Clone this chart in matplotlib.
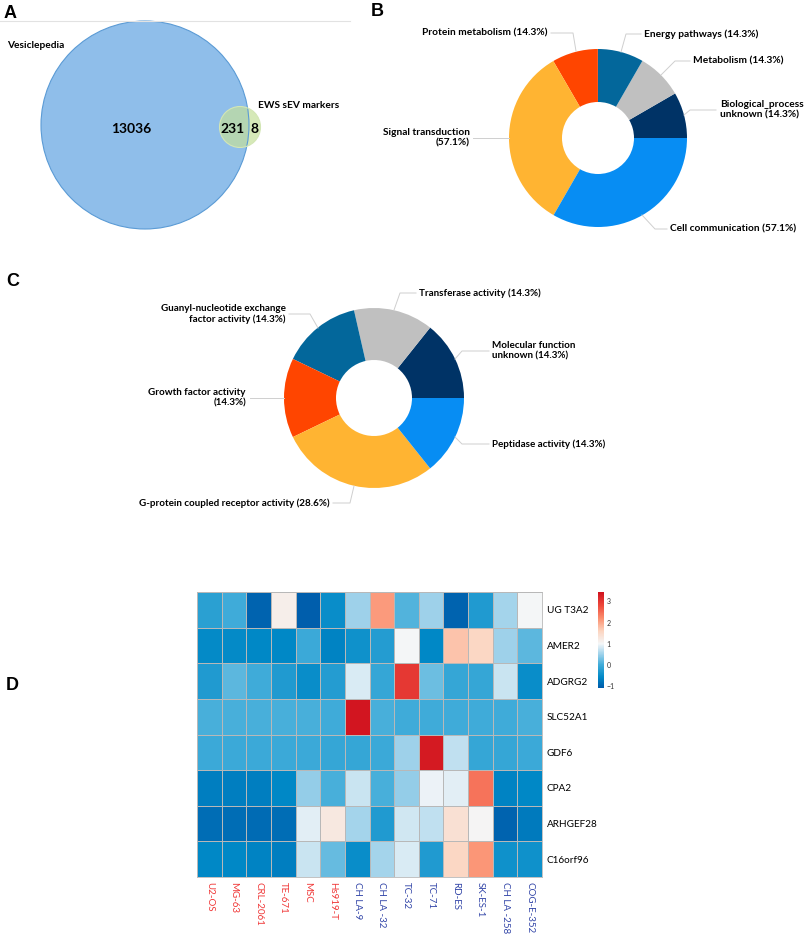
import numpy as np
import matplotlib
matplotlib.use("Agg")
import matplotlib.pyplot as plt
from matplotlib.patches import Circle
from matplotlib.colors import LinearSegmentedColormap, Normalize

W, H = 809, 936

# ---- data ----
# A: venn
venn_sets = ["Vesiclepedia", "EWS sEV markers"]
venn_counts = [13036, 231, 8]   # only left, shared, only right

# B: biological process (counter-clockwise from 3 o'clock)
bp_names = ["Biological_process\nunknown", "Metabolism", "Energy pathways",
            "Protein metabolism", "Signal transduction\n", "Cell communication"]
bp_pct = [14.3, 14.3, 14.3, 14.3, 57.1, 57.1]
bp_colors = ["#003366", "#C0C0C0", "#03679B", "#FF4500", "#FFB432", "#078DF3"]

# C: molecular function
mf_names = ["Molecular function\nunknown", "Transferase activity",
            "Guanyl-nucleotide exchange\nfactor activity", "Growth factor activity\n",
            "G-protein coupled receptor activity", "Peptidase activity"]
mf_pct = [14.3, 14.3, 14.3, 14.3, 28.6, 14.3]
mf_colors = ["#003366", "#C0C0C0", "#03679B", "#FF4500", "#FFB432", "#078DF3"]

# D: heatmap
genes = ["UG T3A2", "AMER2", "ADGRG2", "SLC52A1", "GDF6", "CPA2", "ARHGEF28", "C16orf96"]
cells = ["U2-OS", "MG-63", "CRL-2061", "TE-671", "MSC", "Hs919-T", "CH LA-9", "CH LA -32",
         "TC-32", "TC-71", "RD-ES", "SK-ES-1", "CH LA -258", "COG-E-352"]
cell_group = ["other"] * 6 + ["ews"] * 8
expr = np.array([
    [-0.2, 0.0, -1.0, 1.15, -1.05, -0.5, 0.5, 2.1, 0.1, 0.5, -1.0, -0.3, 0.55, 1.0],
    [-0.55, -0.55, -0.6, -0.6, -0.05, -0.65, -0.45, -0.25, 1.0, -0.6, 1.75, 1.55, 0.5, 0.15],
    [-0.3, 0.15, 0.0, -0.3, -0.5, -0.25, 0.85, -0.1, 3.0, 0.25, -0.1, -0.1, 0.75, -0.5],
    [0.05, 0.05, 0.05, 0.05, 0.05, 0.0, 3.4, 0.05, 0.0, 0.0, 0.0, 0.0, 0.0, 0.05],
    [-0.05, -0.05, -0.05, -0.05, -0.05, -0.1, -0.1, -0.05, 0.5, 3.35, 0.7, -0.1, -0.1, -0.05],
    [-0.7, -0.7, -0.7, -0.6, 0.45, 0.05, 0.75, 0.05, 0.45, 0.95, 0.9, 2.45, -0.65, -0.6],
    [-0.9, -0.9, -0.92, -0.9, 0.9, 1.25, 0.55, -0.3, 0.8, 0.7, 1.4, 1.05, -1.0, -0.75],
    [-0.6, -0.6, -0.65, -0.7, 0.75, 0.2, -0.5, 0.55, 0.85, -0.3, 1.55, 2.15, -0.45, -0.45],
])
cbar_ticks = [-1, 0, 1, 2, 3]

plt.rcParams["font.family"] = ["Lato", "DejaVu Sans"]

fig = plt.figure(figsize=(W / 100, H / 100), dpi=100)
ax = fig.add_axes([0, 0, 1, 1])


def Y(y):
    # pixel row -> data y (y up)
    return H - y


def lead(pts):
    ax.plot([p[0] for p in pts], [Y(p[1]) for p in pts], color="#cfcfcf", lw=0.7, zorder=1)


# ---- panel letters ----
for s, x, y in [("A", 4, 13), ("B", 371, 12), ("C", 6, 282), ("D", 6, 686)]:
    ax.text(x, Y(y), s, fontsize=13, fontweight="bold", family="Liberation Sans",
            ha="left", va="center")

# ---- A: venn ----
ax.plot([0, 350], [Y(21), Y(21)], color="#e2e2e2", lw=0.8)
big = Circle((145, Y(125)), 104, facecolor="#6aa8e4", alpha=0.75, edgecolor="none")
small = Circle((240, Y(127)), 20.5, facecolor="#c5e09b", alpha=0.7, edgecolor="none")
ax.add_patch(big)
ax.add_patch(small)
ax.add_patch(Circle((145, Y(125)), 104, fill=False, edgecolor="#5b9bd5", lw=0.8))
ax.add_patch(Circle((240, Y(127)), 20.5, fill=False, edgecolor="#d3e6b5", lw=0.8))
ax.text(131, Y(129), str(venn_counts[0]), fontsize=10, fontweight="bold", ha="center", va="center")
ax.text(233, Y(129), str(venn_counts[1]), fontsize=10, fontweight="bold", ha="center", va="center")
ax.text(255, Y(129), str(venn_counts[2]), fontsize=10, fontweight="bold", ha="center", va="center")
ax.text(7, Y(45), venn_sets[0], fontsize=7.3, fontweight="bold", ha="left", va="center")
ax.text(258, Y(105), venn_sets[1], fontsize=7.3, fontweight="bold", ha="left", va="center")


def label(name, p):
    sep = "" if name.endswith("\n") else " "
    return f"{name}{sep}({p}%)"


# ---- B: donut ----
cb = (598, Y(138))
ax.pie(bp_pct, colors=bp_colors, startangle=0, counterclock=True, center=cb, radius=89,
       wedgeprops=dict(width=53, edgecolor="none"))
b_pos = [  # text x, y, ha, leader points
    (720, 110, "left", [(716, 110), (690, 110), (684, 115)]),
    (693, 61, "left", [(690, 61), (675, 61), (661, 75)]),
    (644, 34, "left", [(641, 34), (626, 34), (621, 52)]),
    (548, 33, "right", [(551, 33), (573, 33), (576, 51)]),
    (470, 138, "right", [(473, 138), (509, 138)]),
    (670, 229, "left", [(667, 229), (655, 229), (642, 215)]),
]
for n, p, (tx, ty, ha, pts) in zip(bp_names, bp_pct, b_pos):
    lead(pts)
    ax.text(tx, Y(ty), label(n, p), fontsize=7.3, fontweight="bold", ha=ha, va="center",
            multialignment=ha, linespacing=1.25)

# ---- C: donut ----
cc = (374, Y(398))
ax.pie(mf_pct, colors=mf_colors, startangle=0, counterclock=True, center=cc, radius=90,
       wedgeprops=dict(width=52, edgecolor="none"))
c_pos = [
    (492, 351, "left", [(489, 351), (462, 351), (455, 359)]),
    (419, 293, "left", [(416, 293), (400, 293), (394, 310)]),
    (286, 314, "right", [(289, 314), (310, 314), (318, 328)]),
    (246, 398, "right", [(250, 398), (284, 398)]),
    (330, 503, "right", [(333, 503), (350, 503), (354, 486)]),
    (492, 444, "left", [(489, 444), (462, 444), (455, 437)]),
]
for n, p, (tx, ty, ha, pts) in zip(mf_names, mf_pct, c_pos):
    lead(pts)
    ax.text(tx, Y(ty), label(n, p), fontsize=7.1, fontweight="bold", ha=ha, va="center",
            multialignment=ha, linespacing=1.25)

ax.set_xlim(0, W)
ax.set_ylim(0, H)
ax.set_aspect("auto")
ax.axis("off")

# ---- D: heatmap ----
stops = [(-1.1, "#005BAA"), (-0.6, "#0088C6"), (0.0, "#40ACD9"), (0.5, "#9DD1EA"),
         (1.0, "#F4F6F8"), (1.6, "#FCD5C0"), (2.2, "#FB9070"), (2.8, "#EE4A3C"),
         (3.45, "#D0121E")]
vmin, vmax = stops[0][0], stops[-1][0]
cmap = LinearSegmentedColormap.from_list(
    "hm", [((v - vmin) / (vmax - vmin), c) for v, c in stops])
norm = Normalize(vmin=vmin, vmax=vmax)

hx0, hy0, hx1, hy1 = 197, 592, 542, 877
hax = fig.add_axes([hx0 / W, 1 - hy1 / H, (hx1 - hx0) / W, (hy1 - hy0) / H])
mesh = hax.pcolormesh(expr, cmap=cmap, norm=norm, edgecolors="#b8b8b8", linewidth=0.55)
hax.set_xlim(0, len(cells))
hax.set_ylim(len(genes), 0)
hax.yaxis.tick_right()
hax.set_yticks(np.arange(len(genes)) + 0.5)
hax.set_yticklabels(genes, fontsize=7.2, family="Lato")
hax.set_xticks(np.arange(len(cells)) + 0.5)
hax.set_xticklabels(cells, rotation=270, fontsize=7, family="Lato", va="top", ha="center")
for t, g in zip(hax.get_xticklabels(), cell_group):
    t.set_color("#F03838" if g == "other" else "#3346A8")
hax.tick_params(length=0, pad=3.5)
for sp in hax.spines.values():
    sp.set_color("#b8b8b8")
    sp.set_linewidth(0.6)

cax = fig.add_axes([598 / W, 1 - 688 / H, 6 / W, 96 / H])
cbar = fig.colorbar(mesh, cax=cax, ticks=cbar_ticks)
cbar.outline.set_visible(False)
cbar.ax.tick_params(length=0, labelsize=5, pad=2, labelcolor="#333333")

fig.savefig("out.png", dpi=100, facecolor="white")
